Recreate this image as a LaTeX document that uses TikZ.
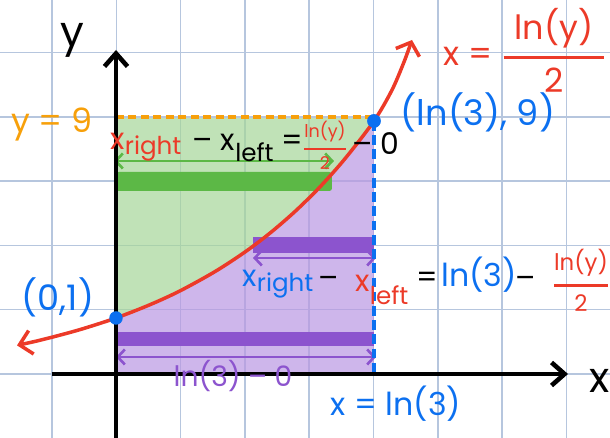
\documentclass[tikz,border=0pt]{standalone}
\usepackage{amsmath}
\usepackage{fontspec}
\setmainfont{Poppins}
\usepackage{tikz}
\usetikzlibrary{arrows.meta}
\definecolor{gridblue}{RGB}{182,198,222}
\definecolor{curvered}{RGB}{236,58,40}
\definecolor{pointblue}{RGB}{12,112,240}
\definecolor{levelorange}{RGB}{247,160,10}
\definecolor{areagreen}{RGB}{165,214,152}
\definecolor{areapurple}{RGB}{185,151,226}
\definecolor{stripgreen}{RGB}{92,184,70}
\definecolor{strippurple}{RGB}{140,84,206}
\tikzset{
  grid-line/.style={draw=gridblue, line width=0.9pt},
  axis-line/.style={draw=black, line width=2.6pt,
    -{Straight Barb[length=2.6mm, width=4.6mm]}},
  curve-line/.style={draw=curvered, line width=2pt, line cap=round,
    {Straight Barb[length=2.4mm, width=4.8mm]}-{Straight Barb[length=2.2mm, width=5mm]}},
  level-dash/.style={draw=levelorange, line width=1.8pt, dash pattern=on 4.5pt off 2.6pt},
  bound-dash/.style={draw=pointblue, line width=1.8pt, dash pattern=on 5.5pt off 2.6pt},
  green-span/.style={draw=stripgreen, line width=1.5pt,
    {Straight Barb[length=1.4mm, width=3mm]}-{Straight Barb[length=1.4mm, width=3mm]}},
  purple-span/.style={draw=strippurple, line width=1.5pt,
    {Straight Barb[length=1.4mm, width=3mm]}-{Straight Barb[length=1.4mm, width=3mm]}},
  point-dot/.style={circle, fill=pointblue, minimum size=0.27cm, inner sep=0pt},
  hand-label/.style={inner sep=0pt, align=center},
  axis-label/.style={hand-label, font=\fontsize{24}{24}\selectfont},
  level-label/.style={hand-label, text=levelorange, font=\fontsize{19}{19}\selectfont},
  point-label/.style={hand-label, text=pointblue, font=\fontsize{20}{20}\selectfont},
  curve-label/.style={hand-label, text=curvered, font=\fontsize{19}{19}\selectfont},
  width-label/.style={hand-label, font=\fontsize{17}{17}\selectfont},
  frac-label/.style={hand-label, text=curvered}
}
\newcommand{\lowsub}[2]{\raisebox{#1}{\fontsize{14}{14}\selectfont #2}}

\begin{document}
\begin{tikzpicture}[x=0.02cm, y=-0.02cm]
\useasboundingbox (0,0) rectangle (610,438);
% squared paper
\foreach \gx in {52,116.3,180.6,244.9,309.2,373.5,437.8,502.1,566.4}
  \draw[grid-line] (\gx,0) -- (\gx,438);
\foreach \gy in {52.5,116.8,181.1,245.4,309.7,374}
  \draw[grid-line] (0,\gy) -- (610,\gy);
% shaded areas on both sides of the curve
\begin{scope}
  \clip (0,345) -- plot[smooth] coordinates {(17,345.4) (45,339) (80,329.6) (116,318) (150,304.7) (180,290.9) (215,271.6) (245,252) (270,233.1) (295,211.5) (320,186.9) (345,158.7) (374,121) (392,90) (404,62) (412,40)} -- (412,0) -- (0,0) -- cycle;
  \fill[areagreen, fill opacity=0.7] (116,118) rectangle (374,318);
\end{scope}
\begin{scope}
  \clip (0,345) -- plot[smooth] coordinates {(17,345.4) (45,339) (80,329.6) (116,318) (150,304.7) (180,290.9) (215,271.6) (245,252) (270,233.1) (295,211.5) (320,186.9) (345,158.7) (374,121) (392,90) (404,62) (412,40)} -- (610,40) -- (610,438) -- (0,438) -- cycle;
  \fill[areapurple, fill opacity=0.7] (116,118) rectangle (374,374);
\end{scope}
% strips and their widths
\fill[stripgreen, rounded corners=1.5pt] (116,172) rectangle (332,191);
\fill[strippurple] (253,237) rectangle (374,253);
\fill[strippurple] (116,332) rectangle (374,346);
\coordinate (green-left) at (114,161);
\coordinate (green-right) at (334,161);
\coordinate (upper-left) at (253,258);
\coordinate (upper-right) at (376,258);
\coordinate (lower-left) at (116,357);
\coordinate (lower-right) at (376,357);
\draw[green-span] (green-left) -- (green-right);
\draw[purple-span] (upper-left) -- (upper-right);
\draw[purple-span] (lower-left) -- (lower-right);
% axes
\coordinate (origin) at (116,374);
\coordinate (x-tail) at (52,374);
\coordinate (x-tip) at (568,374);
\coordinate (y-tail) at (116,438);
\coordinate (y-tip) at (116,50);
\coordinate (level-left) at (116,117);
\coordinate (level-right) at (374,117);
\draw[level-dash] (level-left) -- (level-right);
\node[point-dot] (end-pt) at (374,121) {};
\draw[bound-dash] (end-pt.center) -- (end-pt |- origin);
\draw[axis-line] (x-tail) -- (x-tip);
\draw[axis-line] (y-tail) -- (y-tip);
% the curve x = ln(y)/2
\draw[curve-line] plot[smooth] coordinates {(17,345.4) (45,339) (80,329.6) (116,318) (150,304.7) (180,290.9) (215,271.6) (245,252) (270,233.1) (295,211.5) (320,186.9) (345,158.7) (374,121) (392,90) (404,62) (412,40)};
\node[point-dot] (start-pt) at (116,318) {};
\node[point-dot] at (374,121) {};
% labels
\node[axis-label] (y-name) at (72,40) {y};
\node[axis-label] (x-name) at (600,381) {x};
\node[level-label] (level-name) at (52,125) {y = 9};
\node[point-label] (start-name) at (58,297) {(0,1)};
\node[point-label] (end-name) at (478,112) {(ln(3), 9)};
\node[curve-label] (curve-name) at (525,50) {x = $\genfrac{}{}{1.6pt}{0}{\text{\,\,ln(y)\,\,}}{\text{2}}$};
\node[point-label, font=\fontsize{18}{18}\selectfont] (bound-name) at (396,404) {x = ln(3)};
\node[width-label, text=strippurple, font=\fontsize{16}{16}\selectfont] (lower-width) at (233,376) {ln(3) -- 0};
% green strip width
\node[width-label, text=curvered] (green-xr) at (146,147) {x\lowsub{-0.3ex}{right}};
\node[width-label] (green-xl) at (248,148) {-- x\lowsub{-0.7ex}{left} =};
\node[frac-label, font=\fontsize{10}{10}\selectfont] (green-frac) at (325,145) {$\genfrac{}{}{1.2pt}{0}{\text{ln(y)}}{\text{2}}$};
\node[width-label] (green-zero) at (376,144) {-- 0};
% purple strip width
\node[width-label, text=pointblue] (purple-xr) at (278,284) {x\lowsub{-0.3ex}{right}};
\node[width-label] (purple-minus) at (329,282) {--};
\node[width-label, text=curvered] (purple-xl) at (382,290) {x\lowsub{-0.8ex}{left}};
\node[width-label] (purple-eq) at (427,280) {=};
\node[point-label, font=\fontsize{18}{18}\selectfont] (purple-ln) at (479,275) {ln(3)};
\node[width-label] (purple-minus2) at (526,282) {--};
\node[frac-label, font=\fontsize{13}{13}\selectfont] (purple-frac) at (581,280) {$\genfrac{}{}{1.5pt}{0}{\text{ln(y)}}{\text{2}}$};
\end{tikzpicture}
\end{document}
